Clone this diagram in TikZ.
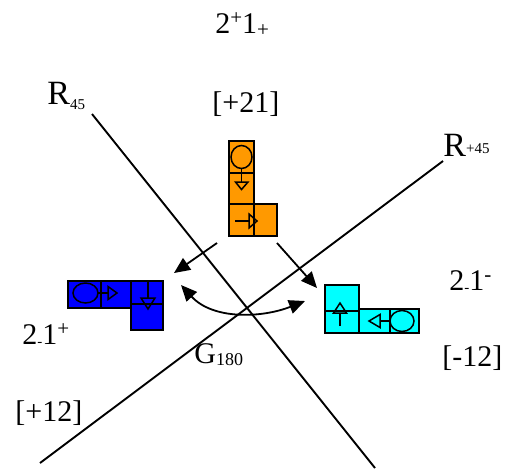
\documentclass[tikz,border=0pt]{standalone}
\usepackage{fontspec}
\setmainfont{Liberation Serif}
\usetikzlibrary{arrows.meta}
\definecolor{Amber}{HTML}{FF9900}
\definecolor{Royal}{HTML}{0000FF}
\definecolor{Aqua}{HTML}{00FFFF}
\newcommand{\labfont}{\fontsize{15}{18}\selectfont}
\newcommand{\axfont}{\fontsize{17}{20}\selectfont}
\newcommand{\lo}[2][-1pt]{\raisebox{#1}{\fontsize{7.5}{9}\selectfont #2}}
\newcommand{\up}[1]{\raisebox{4.5pt}{\fontsize{10.5}{12}\selectfont #1}}
\newcommand{\dn}[1]{\raisebox{-1.5pt}{\fontsize{10.5}{12}\selectfont #1}}

\begin{document}
\begin{tikzpicture}[x=0.5pt,y=-0.5pt,
 cell/.style={draw=black,line width=0.85pt},
 sym/.style={draw=black,line width=0.75pt},
 axis/.style={line width=0.95pt},
 txt/.style={anchor=base west,inner sep=0pt,font=\labfont},
 axtxt/.style={anchor=base west,inner sep=0pt,font=\axfont},
 arr/.style={-{Triangle[length=8pt,width=7pt]},line width=0.9pt},
 dbl/.style={{Triangle[length=8pt,width=7pt]}-{Triangle[length=8pt,width=7pt]},line width=0.9pt}]
 \useasboundingbox (0,0) rectangle (506,472);

 % mirror lines
 \coordinate (ma) at (92,114); \coordinate (mb) at (375,468);
 \coordinate (pa) at (443,161); \coordinate (pb) at (40,463);
 \draw[axis] (ma)--(mb);
 \draw[axis] (pa)--(pb);

 % orange piece (top)
 \draw[cell,fill=Amber] (229,141) rectangle (254,173);
 \draw[cell,fill=Amber] (229,173) rectangle (254,204);
 \draw[cell,fill=Amber] (229,204) rectangle (254,236);
 \draw[cell,fill=Amber] (254,204) rectangle (277,236);
 \draw[sym] (241.5,157) ellipse [x radius=10.5,y radius=11.5];
 \draw[sym] (241.5,168.5)--(241.5,182);
 \draw[sym] (235.5,182)--(248,182)--(241.5,189.5)--cycle;
 \draw[sym] (235,221)--(249,221);
 \draw[sym] (249,214)--(249,228)--(257,221)--cycle;

 % blue piece (left)
 \draw[cell,fill=Royal] (68,281) rectangle (101,308);
 \draw[cell,fill=Royal] (101,281) rectangle (131,308);
 \draw[cell,fill=Royal] (131,281) rectangle (163,304);
 \draw[cell,fill=Royal] (131,304) rectangle (163,330);
 \draw[sym] (85.5,293) ellipse [x radius=12.5,y radius=10];
 \draw[sym] (98,293)--(108,293);
 \draw[sym] (108,286.5)--(108,299.5)--(117,293)--cycle;
 \draw[sym] (148,281)--(148,298);
 \draw[sym] (141,298)--(155,298)--(148,309)--cycle;

 % cyan piece (right)
 \draw[cell,fill=Aqua] (325,285) rectangle (359,311);
 \draw[cell,fill=Aqua] (325,311) rectangle (359,333);
 \draw[cell,fill=Aqua] (359,309) rectangle (390,333);
 \draw[cell,fill=Aqua] (390,309) rectangle (419,333);
 \draw[sym] (402,321) ellipse [x radius=12,y radius=10.5];
 \draw[sym] (390,321)--(380,321);
 \draw[sym] (380,314.5)--(380,327.5)--(369,321)--cycle;
 \draw[sym] (340,326)--(340,313);
 \draw[sym] (333.5,313)--(346.5,313)--(340,303)--cycle;

 % moves
 \coordinate (o1) at (217,243); \coordinate (b1) at (174,273);
 \coordinate (o2) at (277,243); \coordinate (c1) at (317,288);
 \coordinate (b2) at (181,285); \coordinate (c2) at (305,301);
 \draw[arr] (o1)--(b1);
 \draw[arr] (o2)--(c1);
 \draw[dbl] (b2) .. controls (213,320) and (262,318) .. (c2);

 % labels
 \node[txt] (ttop) at (215,33) {2\up{+}1\dn{+}};
 \node[txt] (ctop) at (212,112) {[+21]};
 \node[axtxt] (rm) at (47,104) {R\lo[-2.5pt]{45}};
 \node[axtxt] (rp) at (443,156) {R\lo[1.5pt]{+45}};
 \node[txt] (tleft) at (22,344) {2\lo{-}1\up{+}};
 \node[txt] (cleft) at (15,421) {[+12]};
 \node[txt] (tright) at (449,290) {2\lo{-}1\up{-}};
 \node[txt] (cright) at (442,366) {[-12]};
 \node[txt] (gr) at (194,363) {G{\fontsize{9}{10}\selectfont\raisebox{-1pt}{180}}};
\end{tikzpicture}
\end{document}
